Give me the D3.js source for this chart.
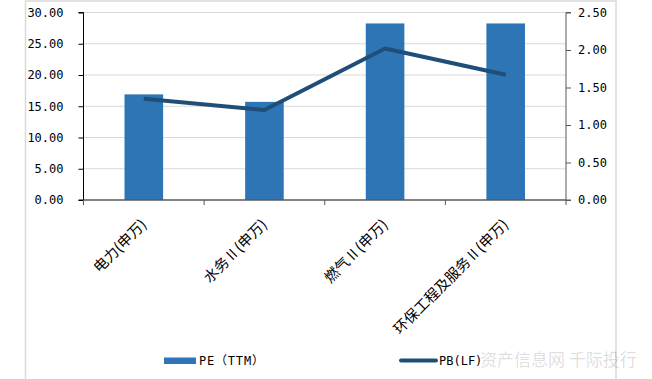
<!DOCTYPE html>
<html>
<head>
<meta charset="utf-8">
<script src="https://cdn.jsdelivr.net/npm/d3@7"></script>
<style>
  body { margin: 0; background: #fff; }
  svg { display: block; }
</style>
</head>
<body>
<svg id="chart" width="652" height="379"></svg>
<script>
// categories and series
let categories = ['电力(申万)', '水务Ⅱ(申万)', '燃气Ⅱ(申万)', '环保工程及服务Ⅱ(申万)'];
let peValues = [16.9, 15.7, 28.25, 28.25];
let pbValues = [1.35, 1.20, 2.02, 1.67];
let leftTicks = [0, 5, 10, 15, 20, 25, 30];
let rightTicks = [0, 0.5, 1, 1.5, 2, 2.5];
let peName = 'PE（TTM）';
let pbName = 'PB(LF)';
let watermark = '资产信息网 千际投行';

let svg = d3.select('#chart');

let barColor = '#2e75b6';
let lineColor = '#1f4e79';
let monoFont = '"DejaVu Sans Mono", "Noto Sans CJK SC", monospace';
let cjkFont = '"Noto Sans CJK SC", "Noto Sans", sans-serif';

// plot area
let x0 = 83.5, x1 = 566, yTop = 12.5, yBot = 200;

// outer frame (left, top, right)
svg.append('path')
  .attr('d', `M25.5,379 V1 H616 V379`)
  .attr('fill', 'none')
  .attr('stroke', '#d9d9d9')
  .attr('stroke-width', 1.5);

let x = d3.scaleBand().domain(categories).range([x0, x1]);
let yL = d3.scaleLinear().domain([0, 30]).range([yBot, yTop]);
let yR = d3.scaleLinear().domain([0, 2.5]).range([yBot, yTop]);

// gridlines
svg.append('g').selectAll('line')
  .data(leftTicks.filter(d => d > 0))
  .join('line')
  .attr('x1', x0).attr('x2', x1)
  .attr('y1', d => yL(d)).attr('y2', d => yL(d))
  .attr('stroke', '#d9d9d9')
  .attr('stroke-width', 1);

// bars
let barW = x.bandwidth() * 0.32;
svg.append('g').selectAll('rect')
  .data(categories)
  .join('rect')
  .attr('x', d => x(d) + x.bandwidth() / 2 - barW / 2)
  .attr('y', (d, i) => yL(peValues[i]))
  .attr('width', barW)
  .attr('height', (d, i) => yBot - yL(peValues[i]))
  .attr('fill', barColor);

// left axis
let gL = svg.append('g')
  .attr('transform', `translate(${x0},0)`)
  .call(d3.axisLeft(yL).tickValues(leftTicks).tickFormat(d3.format('.2f')).tickSize(5).tickPadding(15));
gL.select('.domain').attr('stroke', '#000').attr('d', `M-5,${yTop}H0V${yBot}H-5`);
gL.selectAll('.tick line').attr('stroke', '#000');

// right axis
let gR = svg.append('g')
  .attr('transform', `translate(${x1},0)`)
  .call(d3.axisRight(yR).tickValues(rightTicks).tickFormat(d3.format('.2f')).tickSize(5).tickPadding(7));
gR.select('.domain').attr('stroke', '#595959').attr('d', `M5,${yTop}H0V${yBot}H5`);
gR.selectAll('.tick line').attr('stroke', '#595959');

[gL, gR].forEach(g => {
  g.selectAll('text')
    .attr('fill', '#000')
    .style('font-family', monoFont)
    .style('font-size', '12px');
});

// bottom axis
let gB = svg.append('g')
  .attr('transform', `translate(0,${yBot})`);
gB.append('line')
  .attr('x1', x0).attr('x2', x1)
  .attr('y1', 0).attr('y2', 0)
  .attr('stroke', '#595959').attr('stroke-width', 1.5);
gB.selectAll('line.tk')
  .data(categories.concat(['end']))
  .join('line')
  .attr('class', 'tk')
  .attr('x1', (d, i) => x0 + i * x.bandwidth())
  .attr('x2', (d, i) => x0 + i * x.bandwidth())
  .attr('y1', 0).attr('y2', 5)
  .attr('stroke', '#595959');

// rotated category labels
gB.selectAll('text')
  .data(categories)
  .join('text')
  .attr('transform', d => `translate(${x(d) + x.bandwidth() / 2},${22}) rotate(-45)`)
  .attr('text-anchor', 'end')
  .attr('dy', '0.35em')
  .style('font-family', cjkFont)
  .style('font-size', '14.5px')
  .attr('fill', '#000')
  .text(d => d);

// PB line
let line = d3.line()
  .x((d, i) => x(categories[i]) + x.bandwidth() / 2)
  .y(d => yR(d));
svg.append('path')
  .datum(pbValues)
  .attr('d', line)
  .attr('fill', 'none')
  .attr('stroke', lineColor)
  .attr('stroke-width', 4)
  .attr('stroke-linejoin', 'round');

// legend
let leg = svg.append('g');
leg.append('rect')
  .attr('x', 164).attr('y', 357.5)
  .attr('width', 32).attr('height', 6.5)
  .attr('fill', barColor);
leg.append('text')
  .attr('x', 199).attr('y', 365)
  .style('font-family', monoFont)
  .style('font-size', '12px')
  .attr('letter-spacing', '0.8px')
  .text(peName);
leg.append('line')
  .attr('x1', 401).attr('x2', 436)
  .attr('y1', 360.5).attr('y2', 360.5)
  .attr('stroke', lineColor)
  .attr('stroke-width', 4)
  .attr('stroke-linecap', 'round');
leg.append('text')
  .attr('x', 439).attr('y', 365)
  .style('font-family', monoFont)
  .style('font-size', '12px')
  .text(pbName);

// watermark
svg.append('text')
  .attr('x', 480).attr('y', 366)
  .style('font-family', cjkFont)
  .style('font-size', '17px')
  .attr('fill', '#000')
  .attr('fill-opacity', 0.15)
  .text(watermark);
</script>
</body>
</html>
